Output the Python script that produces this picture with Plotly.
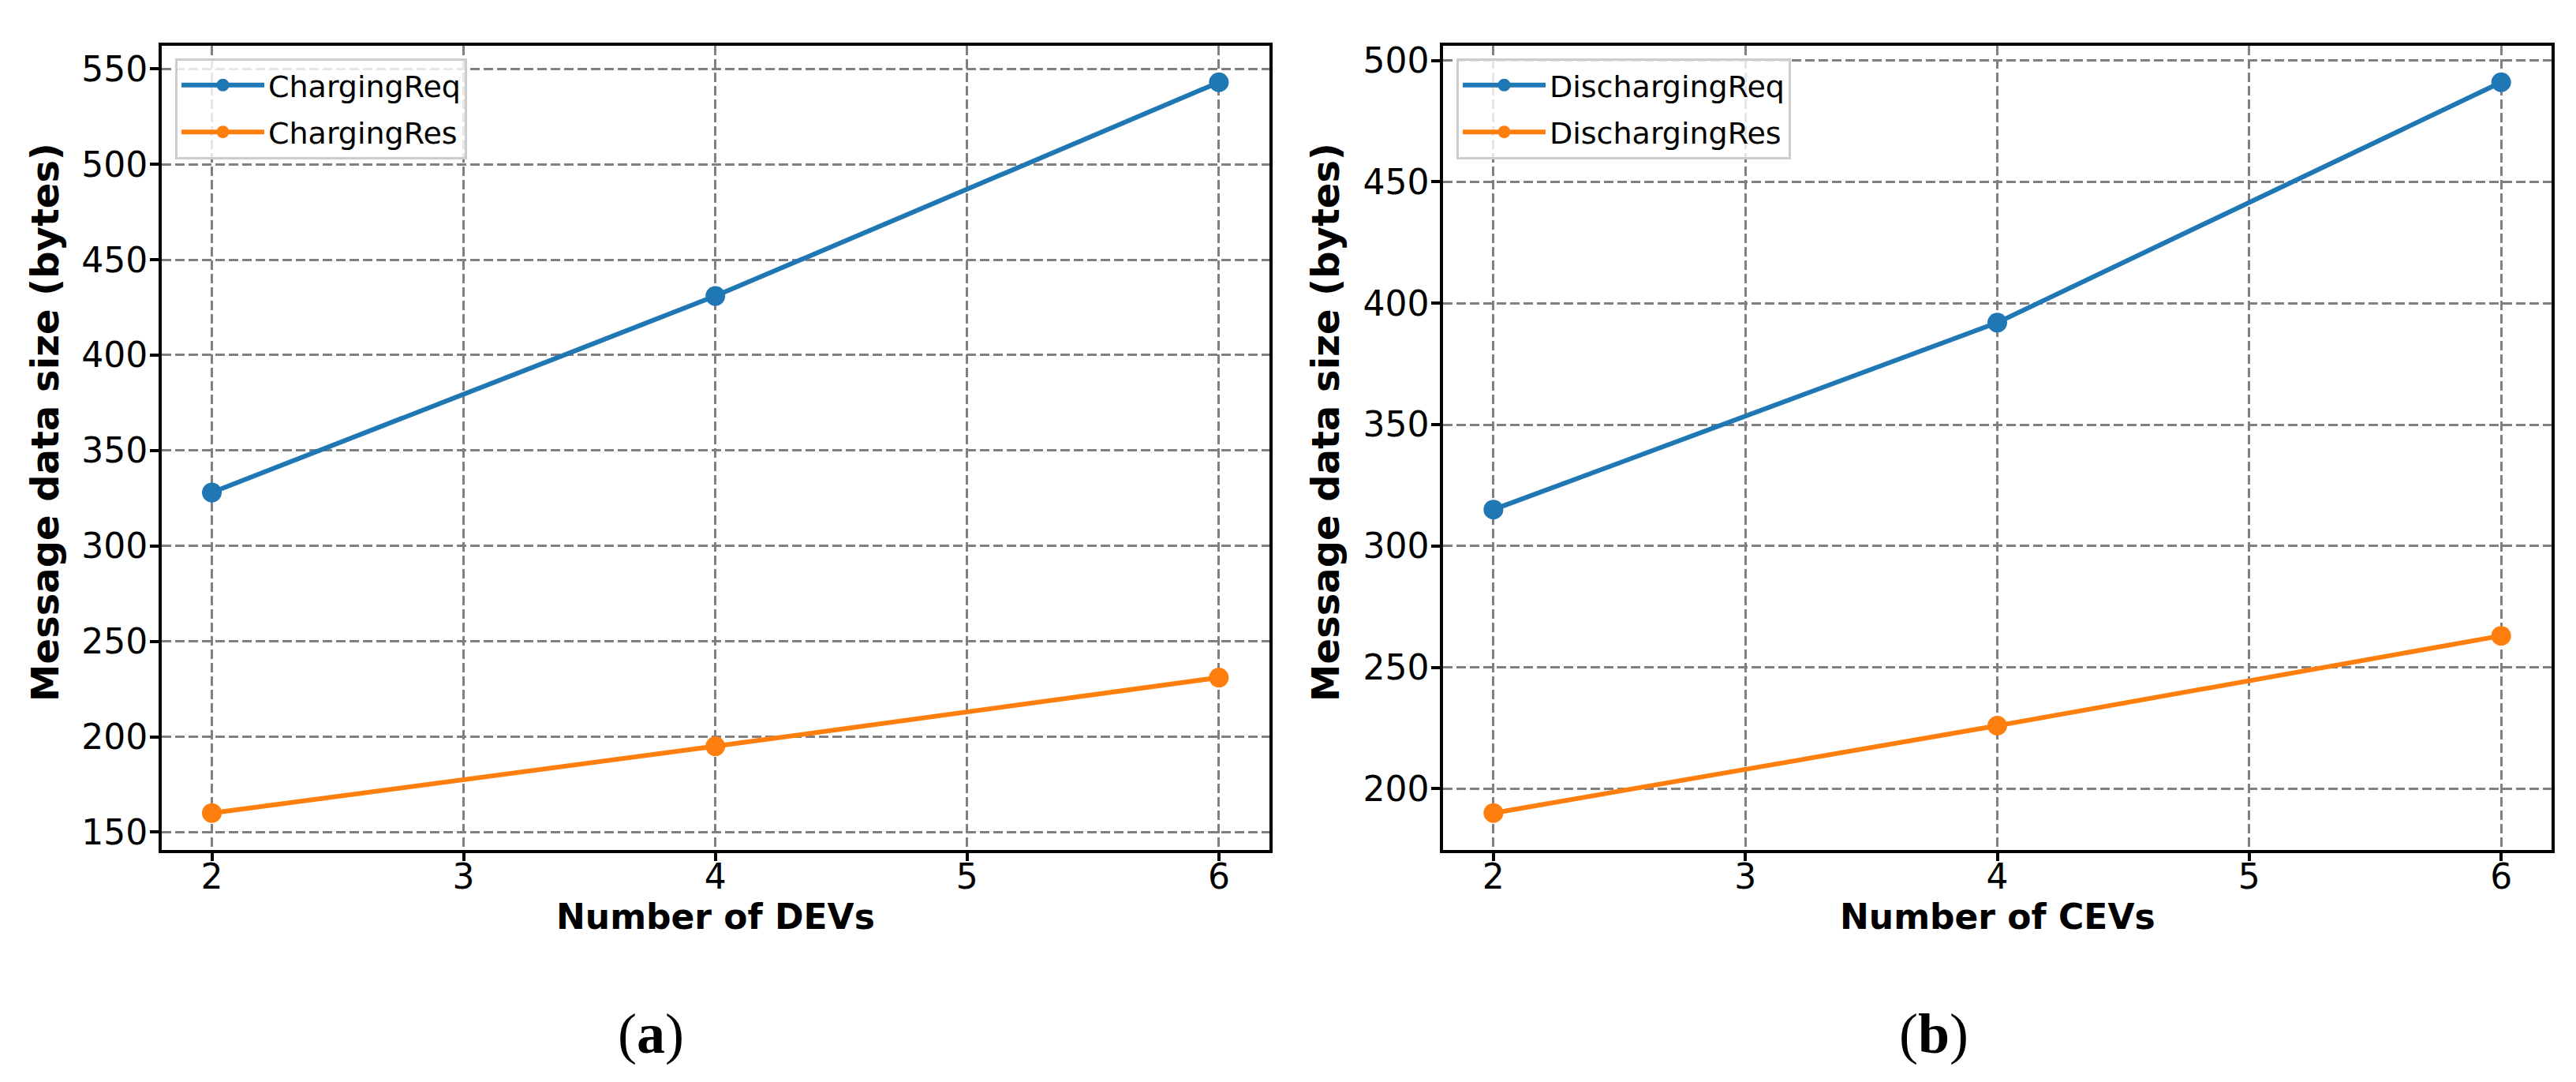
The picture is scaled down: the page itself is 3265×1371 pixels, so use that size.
import plotly.graph_objects as go

# ---- data ----
num_devs = [2, 4, 6]
charging_req = [328, 431, 543]
charging_res = [160, 195, 231]

num_cevs = [2, 4, 6]
discharging_req = [315, 392, 491]
discharging_res = [190, 226, 263]

x_ticks = [2, 3, 4, 5, 6]
y_ticks_left = [150, 200, 250, 300, 350, 400, 450, 500, 550]
y_ticks_right = [200, 250, 300, 350, 400, 450, 500]

BLUE = "#1f77b4"
ORANGE = "#ff7f0e"
W, H = 3265, 1371
FONT = "DejaVu Sans"

fig = go.Figure()


def add_line(x, y, name, color, xa, ya, legend, group):
    fig.add_trace(go.Scatter(
        x=x, y=y, name=name, mode="lines+markers",
        line=dict(color=color, width=6),
        marker=dict(color=color, size=25),
        xaxis=xa, yaxis=ya, legend=legend, legendgroup=group,
    ))


add_line(num_devs, charging_req, "ChargingReq", BLUE, "x", "y", "legend", "a1")
add_line(num_devs, charging_res, "ChargingRes", ORANGE, "x", "y", "legend", "a2")
add_line(num_cevs, discharging_req, "DischargingReq", BLUE, "x2", "y2", "legend2", "b1")
add_line(num_cevs, discharging_res, "DischargingRes", ORANGE, "x2", "y2", "legend2", "b2")


def px_x(p):
    return p / W


def px_y(p):
    return 1 - p / H


ydom = [px_y(1069.3), px_y(43.3)]

axis_common = dict(
    showline=True, linecolor="black", linewidth=3.5, mirror=True,
    ticks="outside", ticklen=11, tickwidth=3.5, tickcolor="black",
    showgrid=True, gridcolor="#808080", gridwidth=3.2, griddash="12px,5px",
    zeroline=False,
    tickfont=dict(family=FONT, size=44, color="black"),
)

legend_common = dict(
    font=dict(family=FONT, size=38, color="black"),
    bgcolor="rgba(255,255,255,0.8)", bordercolor="#cccccc", borderwidth=3,
    xanchor="left", yanchor="top", traceorder="grouped", tracegroupgap=7,
    itemwidth=105, itemsizing="trace",
)

fig.update_layout(
    width=W, height=H,
    margin=dict(l=0, r=0, t=0, b=0),
    paper_bgcolor="white", plot_bgcolor="white",
    showlegend=True,
    xaxis=dict(domain=[px_x(196.7), px_x(1600.7)], range=[1.8, 6.2],
               tickvals=x_ticks, anchor="y", ticklabelstandoff=-18, **axis_common),
    yaxis=dict(domain=ydom, range=[140.85, 562.15],
               tickvals=y_ticks_left, anchor="x", ticklabelstandoff=-6, **axis_common),
    xaxis2=dict(domain=[px_x(1821), px_x(3226)], range=[1.8, 6.2],
                tickvals=x_ticks, anchor="y2", ticklabelstandoff=-18, **axis_common),
    yaxis2=dict(domain=ydom, range=[174.95, 506.05],
                tickvals=y_ticks_right, anchor="x2", ticklabelstandoff=-6, **axis_common),
    legend=dict(x=px_x(214), y=px_y(59), **legend_common),
    legend2=dict(x=px_x(1838), y=px_y(59), **legend_common),
)

title_font = dict(family=FONT, size=44, color="black")
ytitle_font = dict(family=FONT, size=48, color="black")
annotations = [
    dict(text="<b>Message data size (bytes)</b>", x=px_x(49), y=px_y(524),
         textangle=-90, font=ytitle_font),
    dict(text="<b>Message data size (bytes)</b>", x=px_x(1672), y=px_y(524),
         textangle=-90, font=ytitle_font),
    dict(text="<b>Number of DEVs</b>", x=px_x(898.7), y=px_y(1155), font=title_font),
    dict(text="<b>Number of CEVs</b>", x=px_x(2523.5), y=px_y(1155), font=title_font),
    dict(text="(<b>a</b>)", x=px_x(817), y=px_y(1305),
         font=dict(family="Liberation Serif", size=72, color="black")),
    dict(text="(<b>b</b>)", x=px_x(2443), y=px_y(1305),
         font=dict(family="Liberation Serif", size=72, color="black")),
]
for a in annotations:
    a.update(xref="paper", yref="paper", showarrow=False,
             xanchor="center", yanchor="middle")
fig.update_layout(annotations=annotations)

fig.write_html("out.html")
